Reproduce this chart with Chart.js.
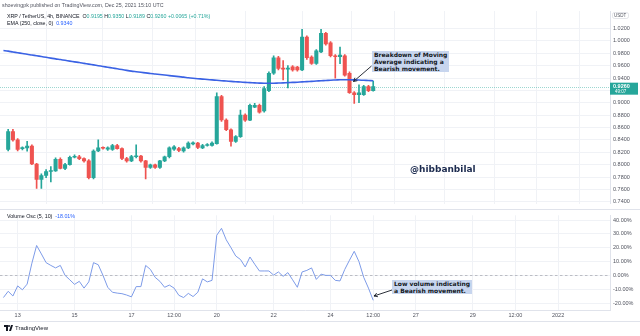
<!DOCTYPE html>
<html>
<head>
<meta charset="utf-8">
<script src="https://cdn.jsdelivr.net/npm/chart.js@4/dist/chart.umd.min.js"></script>
<style>
  html, body { margin: 0; padding: 0; background: #fff; }
  #wrap { position: relative; width: 640px; height: 336px; overflow: hidden; font-family: "Liberation Sans", Arial, sans-serif; }
  canvas { position: absolute; left: 0; }
  #main { top: 0; }
  #osc { top: 209px; }
  .t { position: absolute; white-space: nowrap; font-size: 5.3px; color: #50535e; line-height: 7px; }
  .g { color: #26a69a; }
  .b { color: #2962ff; }
  .note { position: absolute; background: #c7d5ee; color: #131722; font: bold 6px "DejaVu Sans", sans-serif; line-height: 7px; padding: 0 2px; white-space: nowrap; }
  #handle { position: absolute; left: 410px; top: 164px; font: bold 9px "DejaVu Sans", sans-serif; color: #1b2a4e; }
  #logo { position: absolute; left: 4px; top: 325px; font: 6px "Liberation Sans", Arial, sans-serif; color: #131722; display: flex; align-items: center; gap: 2px; }
</style>
</head>
<body>
<div id="wrap">
  <canvas id="main" width="640" height="210"></canvas>
  <canvas id="osc" width="640" height="116"></canvas>

  <div class="t" style="left:2px;top:2px;">shoevingpk published on TradingView.com, Dec 25, 2021 15:10 UTC</div>
  <div class="t" style="left:7px;top:13px;color:#131722;">XRP / TetherUS, 4h, BINANCE&nbsp; O<span class="g">0.9195</span> H<span class="g">0.9350</span> L<span class="g">0.9189</span> C<span class="g">0.9260</span> <span class="g">+0.0065 (+0.71%)</span></div>
  <div class="t" style="left:7px;top:20px;color:#131722;">EMA (250, close, 0)&nbsp; <span class="b">0.9340</span></div>
  <div class="t" style="left:7px;top:213px;color:#131722;">Volume Osc (5, 10)&nbsp; <span class="b">-18.01%</span></div>

  <div class="note" style="left:372px;top:51px;">Breakdown of Moving<br>Average indicating a<br>Bearish movement.</div>
  <div class="note" style="left:392px;top:280px;">Low volume indicating<br>a Bearish movement.</div>
  <div id="handle">@hibbanbilal</div>

  <div id="logo">
    <svg width="9" height="6" viewBox="0 0 9 6"><path d="M0 0h4v6H2V2H0z M5 6l2-6h2l-2 6z" fill="#131722"/><circle cx="5" cy="1" r="1" fill="#131722"/></svg>
    <span>TradingView</span>
  </div>
</div>

<script>
// 4h candles, hours counted from Dec 13 00:00 UTC
const firstCandleHour = -8;
const opens = [0.8245, 0.8533, 0.840, 0.826, 0.827, 0.830, 0.801, 0.776, 0.7825, 0.789,
  0.790, 0.8087, 0.794, 0.800, 0.812, 0.8128, 0.810, 0.806, 0.779, 0.822,
  0.827, 0.825, 0.8245, 0.831, 0.826, 0.810, 0.806, 0.8128, 0.8138, 0.806,
  0.7955, 0.7998, 0.7955, 0.806, 0.8128, 0.825, 0.826, 0.822, 0.827, 0.8335,
  0.835, 0.827, 0.831, 0.831, 0.834, 0.9099, 0.8722, 0.8564, 0.8376, 0.8454,
  0.880, 0.872, 0.893, 0.896, 0.887, 0.9194, 0.9477, 0.9728, 0.9555, 0.9545,
  0.958, 0.9575, 0.953, 1.006, 0.974, 0.9634, 0.9823, 1.0122, 0.997, 0.976,
  0.9745, 0.976, 0.9477, 0.916, 0.913, 0.913, 0.926, 0.9195];
const highs = [0.857, 0.857, 0.842, 0.829, 0.8376, 0.832, 0.802, 0.785, 0.792, 0.797,
  0.811, 0.811, 0.802, 0.814, 0.816, 0.815, 0.811, 0.808, 0.824, 0.840,
  0.829, 0.829, 0.833, 0.833, 0.827, 0.812, 0.815, 0.832, 0.815, 0.807,
  0.801, 0.801, 0.807, 0.814, 0.829, 0.831, 0.828, 0.829, 0.837, 0.837,
  0.836, 0.833, 0.834, 0.837, 0.916, 0.912, 0.874, 0.858, 0.847, 0.888,
  0.882, 0.898, 0.899, 0.898, 0.926, 0.950, 0.976, 0.975, 0.968, 0.960,
  0.960, 0.959, 1.0185, 1.008, 0.976, 0.986, 1.0185, 1.014, 0.999, 0.978,
  0.990, 0.978, 0.950, 0.918, 0.929, 0.928, 0.928, 0.935];
const lows = [0.822, 0.838, 0.822, 0.824, 0.8218, 0.800, 0.7615, 0.7615, 0.779, 0.772,
  0.789, 0.793, 0.792, 0.799, 0.811, 0.808, 0.804, 0.777, 0.777, 0.821,
  0.825, 0.823, 0.823, 0.825, 0.808, 0.804, 0.805, 0.811, 0.804, 0.777,
  0.794, 0.794, 0.794, 0.805, 0.811, 0.823, 0.821, 0.820, 0.826, 0.832,
  0.826, 0.826, 0.830, 0.830, 0.833, 0.870, 0.855, 0.830, 0.836, 0.844,
  0.870, 0.871, 0.892, 0.883, 0.885, 0.918, 0.946, 0.953, 0.937, 0.924,
  0.951, 0.951, 0.952, 0.970, 0.962, 0.962, 0.981, 0.993, 0.974, 0.9398,
  0.963, 0.943, 0.915, 0.899, 0.900, 0.912, 0.918, 0.9189];
const closes = [0.8533, 0.840, 0.8245, 0.827, 0.830, 0.801, 0.776, 0.7825, 0.789, 0.790,
  0.8087, 0.794, 0.800, 0.812, 0.813, 0.8097, 0.806, 0.779, 0.822, 0.827,
  0.8265, 0.827, 0.831, 0.826, 0.810, 0.806, 0.813, 0.8138, 0.806, 0.7955,
  0.7998, 0.7955, 0.806, 0.8128, 0.827, 0.829, 0.823, 0.827, 0.835, 0.835,
  0.828, 0.831, 0.8315, 0.835, 0.9099, 0.8722, 0.8564, 0.8376, 0.8454, 0.880,
  0.872, 0.8958, 0.896, 0.885, 0.923, 0.9477, 0.9728, 0.9555, 0.9545, 0.955,
  0.953, 0.953, 1.006, 0.973, 0.9634, 0.9838, 1.0122, 0.9949, 0.976, 0.9744,
  0.977, 0.9445, 0.9162, 0.913, 0.916, 0.926, 0.9195, 0.926];

// EMA(250) and Volume Osc(5,10), one value per bar starting one bar earlier
const seriesStartHour = -12;
const ema250 = [0.9845, 0.9834, 0.9821, 0.9809, 0.9796, 0.9783, 0.9772, 0.9760, 0.9747, 0.9735,
  0.9722, 0.9709, 0.9698, 0.9686, 0.9673, 0.9661, 0.9650, 0.9637, 0.9625, 0.9612,
  0.9599, 0.9587, 0.9574, 0.9562, 0.9549, 0.9537, 0.9524, 0.9512, 0.9502, 0.9492,
  0.9483, 0.9473, 0.9465, 0.9456, 0.9448, 0.9439, 0.9431, 0.9422, 0.9414, 0.9404,
  0.9396, 0.9389, 0.9382, 0.9376, 0.9370, 0.9363, 0.9357, 0.9351, 0.9345, 0.9340,
  0.9335, 0.9330, 0.9325, 0.9321, 0.9318, 0.9315, 0.9315, 0.9316, 0.9319, 0.9322,
  0.9325, 0.9329, 0.9332, 0.9337, 0.9341, 0.9346, 0.9351, 0.9356, 0.9360, 0.9365,
  0.9368, 0.9371, 0.9373, 0.9371, 0.9370, 0.9367, 0.9363, 0.9360, 0.9357];
const volumeOsc = [-16, -11.5, -14.9, -7.6, -10.4, -6.3, 8.8, 21.6, 15.5, 9.2,
  7.2, 5.4, 7.2, 0, -3.2, -6.5, -4.3, -9.2, -4.7, 9.2,
  7.7, 0, -8.6, -12.2, -12.8, -13.2, -14.2, -15.5, -8.1, -8.1,
  7.2, 4.3, -1.4, -4.3, -8.6, -7.0, -9.2, -14.4, -16, -13,
  -15.3, -12.2, -2.5, -4.7, -3.6, 29, 34, 25.7, 20, 14,
  11.5, 6.1, 13.3, 8.1, 3.2, 3.2, 3.2, 0.2, 2.5, -0.7,
  2, -3.2, -8.6, 2.5, 3.6, 5.4, -2.9, 0.9, 0, 0,
  -3.6, -4, 4.3, 11, 17.4, 9.9, -1.4, -9.2, -18.01];

const timeTickHours = [0, 48, 96, 132, 168, 216, 264, 300, 336, 384, 420, 456];
const timeTickLabels = ['13', '15', '17', '12:00', '20', '22', '24', '12:00', '27', '29', '12:00', '2022'];
const priceTicks = [0.74, 0.76, 0.78, 0.80, 0.82, 0.84, 0.86, 0.88, 0.90, 0.92, 0.94, 0.96, 0.98, 1.00, 1.02];
const oscTicks = [-20, -10, 0, 10, 20, 30, 40];

const X_MIN = -14.9, X_MAX = 499.8;
const UP = '#26a69a', DOWN = '#ef5350';
const GRID = '#f0f2f6';
const AXIS_FONT = { family: '"Liberation Sans", Arial, sans-serif', size: 5.5 };

const candleHours = closes.map((c, i) => firstCandleHour + i * 4);
const candleColors = closes.map((c, i) => c >= opens[i] ? UP : DOWN);
const lastClose = closes[closes.length - 1];

function xAxis(showLabels) {
  return {
    type: 'linear', min: X_MIN, max: X_MAX, offset: false,
    afterBuildTicks: s => { s.ticks = timeTickHours.map(v => ({ value: v })); },
    afterFit: s => { s.height = showLabels ? 15 : 0; },
    grid: { color: GRID, drawTicks: false },
    border: { display: showLabels, color: '#e0e3eb' },
    ticks: {
      display: showLabels, padding: 2, color: '#50535e', font: AXIS_FONT, maxRotation: 0,
      autoSkip: false,
      callback: v => timeTickLabels[timeTickHours.indexOf(v)]
    }
  };
}

function yAxis(ticks, fmt, min, max) {
  return {
    position: 'right', min, max,
    afterBuildTicks: s => { s.ticks = ticks.map(v => ({ value: v })); },
    afterFit: s => { s.width = 30; },
    grid: { color: GRID, drawTicks: false },
    border: { color: '#e0e3eb' },
    ticks: { padding: 3, color: '#50535e', font: AXIS_FONT, callback: fmt }
  };
}

function arrow(ctx, x1, y1, x2, y2) {
  const a = Math.atan2(y2 - y1, x2 - x1);
  ctx.save();
  ctx.strokeStyle = '#131722';
  ctx.lineWidth = 0.9;
  ctx.beginPath();
  ctx.moveTo(x1, y1); ctx.lineTo(x2, y2);
  ctx.moveTo(x2 - 4 * Math.cos(a - 0.5), y2 - 4 * Math.sin(a - 0.5));
  ctx.lineTo(x2, y2);
  ctx.lineTo(x2 - 4 * Math.cos(a + 0.5), y2 - 4 * Math.sin(a + 0.5));
  ctx.stroke();
  ctx.restore();
}

const pricePane = {
  id: 'pricePane',
  beforeDatasetsDraw(chart) {
    const { ctx, chartArea: a, scales: { y } } = chart;
    const py = Math.round(y.getPixelForValue(lastClose)) + 0.5;
    ctx.save();
    ctx.strokeStyle = 'rgba(38,166,154,0.45)';
    ctx.lineWidth = 1;
    ctx.setLineDash([1, 1]);
    ctx.beginPath(); ctx.moveTo(a.left, py); ctx.lineTo(a.right, py); ctx.stroke();
    ctx.restore();
  },
  afterDraw(chart) {
    const { ctx, chartArea: a, scales: { y } } = chart;
    const py = y.getPixelForValue(lastClose);
    ctx.save();
    // last price tag on the scale
    ctx.fillStyle = UP;
    ctx.fillRect(a.right, py - 4, 28, 12);
    ctx.fillStyle = '#fff';
    ctx.font = 'bold 5.5px "Liberation Sans", Arial, sans-serif';
    ctx.textBaseline = 'middle';
    ctx.fillText(lastClose.toFixed(4), a.right + 3, py);
    ctx.font = '4.5px "Liberation Sans", Arial, sans-serif';
    ctx.fillText('49:07', a.right + 5, py + 5.5);
    // currency badge
    ctx.strokeStyle = '#d1d4dc';
    ctx.lineWidth = 0.6;
    ctx.beginPath();
    ctx.roundRect(a.right + 2.5, a.top + 1.5, 16, 6, 2);
    ctx.stroke();
    ctx.fillStyle = '#50535e';
    ctx.font = '4.5px "Liberation Sans", Arial, sans-serif';
    ctx.fillText('USDT', a.right + 4, a.top + 4.7);
    ctx.restore();
    arrow(ctx, 371.5, 66, 353.5, 81.5);
  }
};

const oscPane = {
  id: 'oscPane',
  beforeDatasetsDraw(chart) {
    const { ctx, chartArea: a, scales: { y } } = chart;
    const zy = Math.round(y.getPixelForValue(0)) + 0.5;
    ctx.save();
    ctx.strokeStyle = '#a3a6af';
    ctx.lineWidth = 0.7;
    ctx.setLineDash([2.5, 2.5]);
    ctx.beginPath(); ctx.moveTo(a.left, zy); ctx.lineTo(a.right, zy); ctx.stroke();
    ctx.setLineDash([]);
    ctx.strokeStyle = '#e0e3eb';
    ctx.lineWidth = 1;
    ctx.beginPath(); ctx.moveTo(0, 0.5); ctx.lineTo(640, 0.5); ctx.stroke();
    ctx.beginPath(); ctx.moveTo(0, 112.5); ctx.lineTo(640, 112.5); ctx.stroke();
    ctx.restore();
  },
  afterDraw(chart) {
    arrow(chart.ctx, 392, 81, 374, 87);
  }
};

new Chart(document.getElementById('main'), {
  type: 'bar',
  data: {
    datasets: [
      {
        type: 'line', label: 'EMA 250',
        data: ema250.map((v, i) => ({ x: seriesStartHour + i * 4, y: v })),
        borderColor: '#3a62e4', borderWidth: 1.6, pointRadius: 0, tension: 0.3, order: 0
      },
      {
        label: 'wick',
        data: candleHours.map((h, i) => ({ x: h, y: [lows[i], highs[i]] })),
        backgroundColor: candleColors, barThickness: 1, grouped: false, order: 2
      },
      {
        label: 'body',
        data: candleHours.map((h, i) => ({ x: h, y: [opens[i], closes[i]] })),
        backgroundColor: candleColors, barThickness: 3.4, minBarLength: 1, grouped: false, order: 1
      }
    ]
  },
  options: {
    responsive: false,
    animation: false,
    layout: { padding: { top: 11, bottom: 1, left: 0, right: 0 } },
    plugins: { legend: { display: false }, tooltip: { enabled: false } },
    scales: {
      x: xAxis(false),
      y: yAxis(priceTicks, v => v.toFixed(4), 0.7369, 1.0483)
    }
  },
  plugins: [pricePane]
});

new Chart(document.getElementById('osc'), {
  type: 'line',
  data: {
    datasets: [{
      label: 'Volume Osc',
      data: volumeOsc.map((v, i) => ({ x: seriesStartHour + i * 4, y: v })),
      borderColor: '#7d9be8', borderWidth: 1, pointRadius: 0, tension: 0
    }]
  },
  options: {
    responsive: false,
    animation: false,
    layout: { padding: 0 },
    plugins: { legend: { display: false }, tooltip: { enabled: false } },
    scales: {
      x: xAxis(true),
      y: yAxis(oscTicks, v => v.toFixed(2) + '%', -25, 43.4)
    }
  },
  plugins: [oscPane]
});
</script>
</body>
</html>
